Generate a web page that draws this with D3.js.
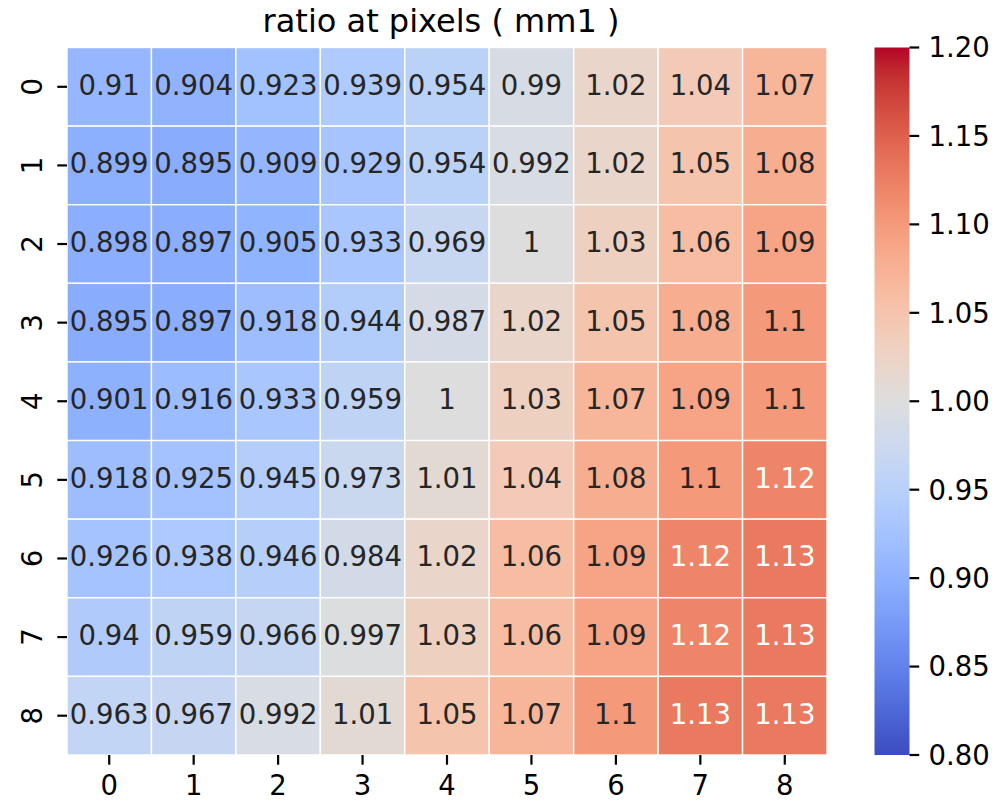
<!DOCTYPE html>
<html>
<head>
<meta charset="utf-8">
<script src="https://cdn.jsdelivr.net/npm/d3@7"></script>
<style>
  html, body { margin: 0; padding: 0; background: #fff; }
  svg { display: block; font-family: "DejaVu Sans", sans-serif; }
</style>
</head>
<body>
<svg id="chart" width="995" height="800"></svg>
<script>
// ---- data ----
const title = "ratio at pixels ( mm1 )";
const rowLabels = ["0","1","2","3","4","5","6","7","8"];
const colLabels = ["0","1","2","3","4","5","6","7","8"];
const row0 = [0.91, 0.904, 0.923, 0.939, 0.954, 0.99, 1.02, 1.04, 1.07];
const row1 = [0.899, 0.895, 0.909, 0.929, 0.954, 0.992, 1.02, 1.05, 1.08];
const row2 = [0.898, 0.897, 0.905, 0.933, 0.969, 1, 1.03, 1.06, 1.09];
const row3 = [0.895, 0.897, 0.918, 0.944, 0.987, 1.02, 1.05, 1.08, 1.1];
const row4 = [0.901, 0.916, 0.933, 0.959, 1, 1.03, 1.07, 1.09, 1.1];
const row5 = [0.918, 0.925, 0.945, 0.973, 1.01, 1.04, 1.08, 1.1, 1.12];
const row6 = [0.926, 0.938, 0.946, 0.984, 1.02, 1.06, 1.09, 1.12, 1.13];
const row7 = [0.94, 0.959, 0.966, 0.997, 1.03, 1.06, 1.09, 1.12, 1.13];
const row8 = [0.963, 0.967, 0.992, 1.01, 1.05, 1.07, 1.1, 1.13, 1.13];
const values = [row0, row1, row2, row3, row4, row5, row6, row7, row8];
const vmin = 0.8, vmax = 1.2;
const cbarTicks = [0.80, 0.85, 0.90, 0.95, 1.00, 1.05, 1.10, 1.15, 1.20];

// coolwarm colormap control points (Moreland)
const cwStops = [
 [59,76,192],[68,90,204],[77,104,215],[87,117,225],[98,130,234],[108,142,241],
 [119,154,247],[130,165,251],[141,176,254],[152,185,255],[163,194,255],[174,201,253],
 [184,208,249],[194,213,244],[204,217,238],[213,219,230],[221,221,221],[229,216,209],
 [236,211,197],[241,204,185],[245,196,173],[247,187,160],[247,177,148],[247,166,135],
 [244,154,123],[241,141,111],[236,127,99],[229,112,88],[222,96,77],[213,80,66],
 [203,62,56],[192,40,47],[180,4,38]
];

// ---- layout ----
const svg = d3.select("#chart");
const X0 = 67, X1 = 827, Y0 = 47.5, Y1 = 755;
const CB0 = 874.5, CB1 = 909.5;
const fs = 27.5;

const cmap = d3.scaleLinear()
  .domain(cwStops.map((_, i) => i / (cwStops.length - 1)))
  .range(cwStops.map(c => d3.rgb(c[0], c[1], c[2])))
  .interpolate(d3.interpolateRgb)
  .clamp(true);
const norm = d3.scaleLinear().domain([vmin, vmax]).range([0, 1]);
const color = v => cmap(norm(v));

const x = d3.scaleBand().domain(colLabels).range([X0, X1]).padding(0);
const y = d3.scaleBand().domain(rowLabels).range([Y0, Y1]).padding(0);

function lum(c) {
  const f = u => { u = u / 255; return u <= 0.03928 ? u / 12.92 : Math.pow((u + 0.055) / 1.055, 2.4); };
  const r = d3.rgb(c);
  return 0.2126 * f(r.r) + 0.7152 * f(r.g) + 0.0722 * f(r.b);
}

const cells = [];
values.forEach((row, i) => row.forEach((v, j) => cells.push({ r: rowLabels[i], c: colLabels[j], v })));

svg.append("g").selectAll("rect").data(cells).join("rect")
  .attr("x", d => x(d.c)).attr("y", d => y(d.r))
  .attr("width", x.bandwidth()).attr("height", y.bandwidth())
  .attr("fill", d => color(d.v))
  .attr("stroke", "#fff").attr("stroke-width", 1.4);

const fmt = d3.format(".3~g");
svg.append("g").selectAll("text").data(cells).join("text")
  .attr("x", d => x(d.c) + x.bandwidth() / 2)
  .attr("y", d => y(d.r) + y.bandwidth() / 2 + 8)
  .attr("text-anchor", "middle")
  .attr("font-size", fs)
  .attr("fill", d => lum(color(d.v)) > 0.408 ? "#262626" : "#ffffff")
  .text(d => fmt(d.v));

// axes
const tickLen = 9.7, tickW = 2.2;
const xt = svg.append("g");
colLabels.forEach(c => {
  const cx = x(c) + x.bandwidth() / 2;
  xt.append("line").attr("x1", cx).attr("x2", cx).attr("y1", Y1).attr("y2", Y1 + tickLen)
    .attr("stroke", "#000").attr("stroke-width", tickW);
  xt.append("text").attr("x", cx).attr("y", 794.5).attr("text-anchor", "middle")
    .attr("font-size", fs).attr("fill", "#000").text(c);
});
const yt = svg.append("g");
rowLabels.forEach(r => {
  const cy = y(r) + y.bandwidth() / 2;
  yt.append("line").attr("x1", X0 - tickLen).attr("x2", X0).attr("y1", cy).attr("y2", cy)
    .attr("stroke", "#000").attr("stroke-width", tickW);
  yt.append("text").attr("transform", `translate(41.5,${cy}) rotate(-90)`)
    .attr("text-anchor", "middle").attr("font-size", fs).attr("fill", "#000").text(r);
});

// title
svg.append("text").attr("x", 441).attr("y", 32).attr("text-anchor", "middle")
  .attr("font-size", 32).attr("fill", "#000").text(title);

// colorbar
const defs = svg.append("defs");
const grad = defs.append("linearGradient").attr("id", "cw")
  .attr("x1", 0).attr("y1", 1).attr("x2", 0).attr("y2", 0);
d3.range(0, 1.0001, 1 / 64).forEach(t => {
  grad.append("stop").attr("offset", t).attr("stop-color", cmap(t));
});
svg.append("rect").attr("x", CB0).attr("y", Y0).attr("width", CB1 - CB0).attr("height", Y1 - Y0)
  .attr("fill", "url(#cw)");
const cy = d3.scaleLinear().domain([vmin, vmax]).range([Y1, Y0]);
const cbFmt = d3.format(".2f");
const cbg = svg.append("g");
cbarTicks.forEach(t => {
  cbg.append("line").attr("x1", CB1).attr("x2", CB1 + tickLen).attr("y1", cy(t)).attr("y2", cy(t))
    .attr("stroke", "#000").attr("stroke-width", tickW);
  cbg.append("text").attr("x", CB1 + 19).attr("y", cy(t)).attr("dy", "0.36em")
    .attr("font-size", fs).attr("fill", "#000").text(cbFmt(t));
});
</script>
</body>
</html>
